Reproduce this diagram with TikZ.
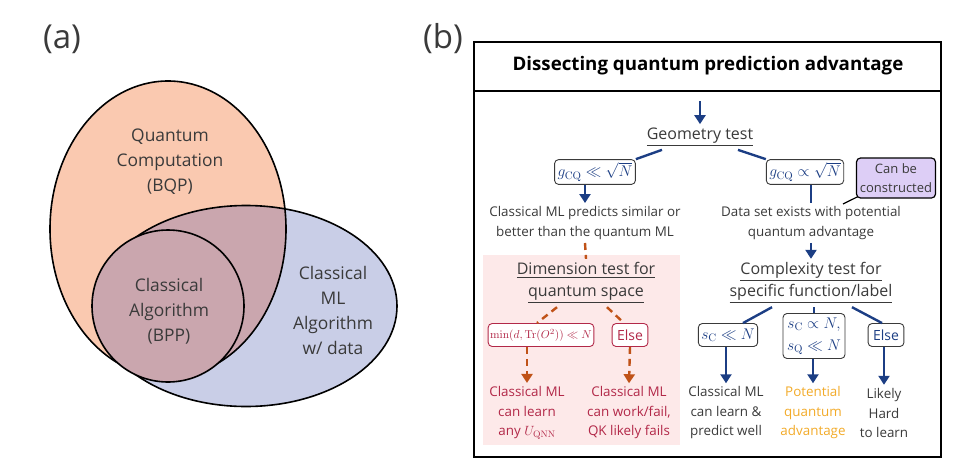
\RequirePackage{fix-cm}
\documentclass[tikz,border=0pt]{standalone}
\usepackage{amsmath}
\usepackage{amssymb}
\usepackage[no-math]{fontspec}
\setmainfont{Open Sans}
\usetikzlibrary{arrows.meta}

\definecolor{navy}{RGB}{28,62,132}
\definecolor{crim}{RGB}{178,40,72}
\definecolor{rust}{RGB}{192,82,24}
\definecolor{pinkbg}{RGB}{253,233,233}
\definecolor{lilac}{RGB}{221,206,246}
\definecolor{gold}{RGB}{242,170,40}
\definecolor{txtgray}{RGB}{58,58,58}
\definecolor{salmon}{RGB}{250,201,176}
\definecolor{bluish}{RGB}{201,206,231}
\definecolor{mauve}{RGB}{202,166,174}

\begin{document}
\begin{tikzpicture}[x=1pt,y=-1pt,
    lbl/.style={font=\fontsize{13.4}{19.5}\selectfont,align=center,text=txtgray},
    test/.style={font=\fontsize{16}{22}\selectfont,align=center,text=txtgray},
    venn/.style={font=\fontsize{17.4}{25}\selectfont,align=center,text=txtgray},
    cond/.style={draw=txtgray,line width=0.9pt,rounded corners=4pt,fill=white,
      text=navy,font=\fontsize{15.5}{22}\selectfont,align=center,inner sep=3pt,minimum height=23pt},
    rcond/.style={cond,draw=crim,text=crim},
    else/.style={font=\fontsize{14}{18}\selectfont,inner xsep=5pt},
    nline/.style={navy,line width=2.4pt},
    narrow/.style={nline,-{Triangle[length=9pt,width=11pt]}},
    odash/.style={rust,line width=2.4pt,dash pattern=on 7pt off 5pt},
    odasharrow/.style={odash,-{Triangle[length=9pt,width=11pt]}}]
\useasboundingbox (0,0) rectangle (973,469);

% (a) Venn diagram
\fill[salmon] (168,229) ellipse [x radius=118pt,y radius=148pt];
\fill[bluish] (246,306) ellipse [x radius=151pt,y radius=100.5pt];
\begin{scope}
  \clip (168,229) ellipse [x radius=118pt,y radius=148pt];
  \fill[mauve] (246,306) ellipse [x radius=151pt,y radius=100.5pt];
\end{scope}
\draw[line width=1.6pt] (168,229) ellipse [x radius=118pt,y radius=148pt];
\draw[line width=1.6pt] (246,306) ellipse [x radius=151pt,y radius=100.5pt];
\draw[line width=1.6pt,fill=mauve] (168,306) circle [radius=76pt];

\node[font=\fontsize{33}{36}\selectfont,text=txtgray] (pa) at (62,39) {(a)};
\node[venn] (bqp) at (170,162) {Quantum\\Computation\\(BQP)};
\node[venn] (bpp) at (169,311) {Classical\\Algorithm\\(BPP)};
\node[venn] (cml) at (333,310) {Classical\\ML\\Algorithm\\w/ data};

% (b) flow chart
\node[font=\fontsize{33}{36}\selectfont,text=txtgray] (pb) at (443,39) {(b)};
\fill[pinkbg] (483,255) rectangle (680,445);
\draw[line width=1.6pt] (474,42) rectangle (941,457);
\draw[line width=1.6pt] (474,91) -- (941,91);
\node[font=\bfseries\fontsize{18.7}{22}\selectfont] (ttl) at (708,66) {Dissecting quantum prediction advantage};

\node[test] (geo) at (700,137) {\underline{Geometry test}};
\node[cond] (gl) at (595,172) {$g_{\mathrm{CQ}}\ll\sqrt{N}$};
\node[cond] (gr) at (805,172) {$g_{\mathrm{CQ}}\propto\sqrt{N}$};
\node[draw,line width=1.2pt,rounded corners=4pt,fill=lilac,align=center,text=txtgray,
  font=\fontsize{13}{19}\selectfont,inner sep=2pt,minimum width=79pt,minimum height=40pt] (can) at (896,178) {Can be\\constructed};
\node[lbl] (sim) at (585,223) {Classical ML predicts similar or\\better than the quantum ML};
\node[lbl] (dat) at (811,223) {Data set exists with potential\\quantum advantage};

\node[test] (dim) at (586,283) {\underline{Dimension test for}\\\underline{quantum space}};
\node[test] (cpx) at (811,283) {\underline{Complexity test for}\\\underline{specific function/label}};

\node[rcond,font=\fontsize{11.4}{14}\selectfont,inner xsep=2pt] (rmin) at (541,335) {$\min(d,\mathrm{Tr}(O^2))\ll N$};
\node[rcond,else] (relse) at (630,335) {Else};
\node[cond] (sc) at (728,335) {$s_{\mathrm{C}}\ll N$};
\node[cond,inner sep=4pt] (scq) at (814,336) {$s_{\mathrm{C}}\propto N,$\\$s_{\mathrm{Q}}\ll N$};
\node[cond,else] (belse) at (886,335) {Else};

\node[lbl,text=crim] (r1) at (527,413) {Classical ML\\can learn\\any $U_{\mathrm{QNN}}$};
\node[lbl,text=crim] (r2) at (629,413) {Classical ML\\can work/fail,\\QK likely fails};
\node[lbl] (r3) at (726,413) {Classical ML\\can learn \&\\predict well};
\node[lbl,text=gold] (r4) at (813,413) {Potential\\quantum\\advantage};
\node[lbl] (r5) at (884,413) {Likely\\Hard\\to learn};

\coordinate (top) at (700,101);
\coordinate (tail) at (843,204);

\draw[narrow] (top) -- (geo.north);
\draw[nline] ([xshift=-38pt]geo.south) -- (gl.north east);
\draw[nline] ([xshift=38pt]geo.south) -- (gr.north west);
\draw[narrow] (gl.south -| sim.north) -- (sim.north);
\draw[nline] (gr.south -| dat.north) -- (dat.north);
\draw[line width=1.2pt] ([xshift=2pt,yshift=2pt]can.south west) -- (tail);
\draw[narrow] (dat.south) -- (cpx.north);

\draw[odash] (sim.south) -- (dim.north);
\draw[odash] ([xshift=-29pt]dim.south) -- ([xshift=-4pt]rmin.north);
\draw[odash] ([xshift=21pt]dim.south) -- ([xshift=-6pt]relse.north);
\draw[odasharrow] (rmin.south -| r1.north) -- (r1.north);
\draw[odasharrow] (relse.south) -- (r2.north);

\draw[nline] ([xshift=-39pt]cpx.south) -- ([xshift=15pt]sc.north);
\draw[nline] (cpx.south -| scq.north) -- (scq.north);
\draw[nline] ([xshift=41pt]cpx.south) -- ([xshift=-4pt]belse.north);
\draw[narrow] (sc.south -| r3.north) -- (r3.north);
\draw[narrow] (scq.south -| r4.north) -- (r4.north);
\draw[narrow] (belse.south -| r5.north) -- (r5.north);
\end{tikzpicture}
\end{document}
